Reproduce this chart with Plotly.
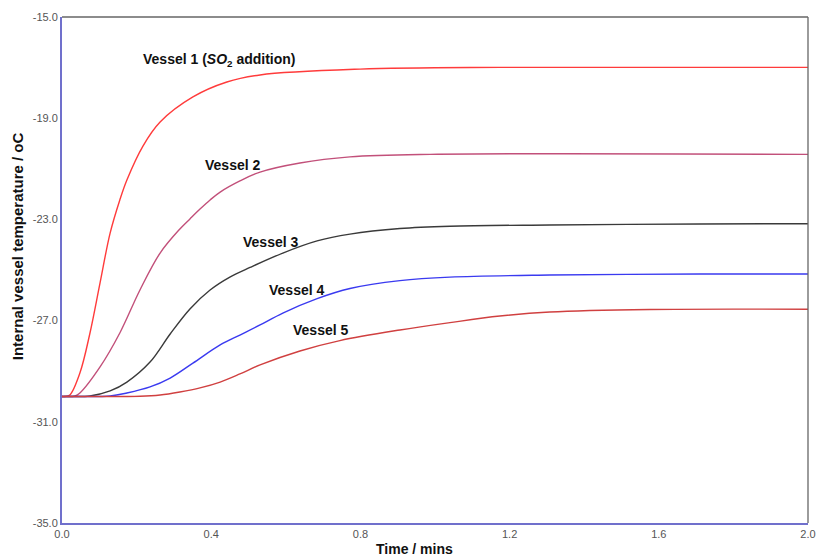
import plotly.graph_objects as go

# Time (mins) and internal temperature (oC)
t1 = [0.0, 0.008, 0.021, 0.048, 0.075, 0.102, 0.129, 0.155, 0.174, 0.217, 0.263, 0.351, 0.442, 0.531, 0.799, 1.174, 2.0]
v1 = [-30.0, -30.0, -29.94, -29.07, -27.49, -25.51, -23.54, -22.23, -21.44, -20.10, -19.15, -18.16, -17.57, -17.29, -17.06, -16.99, -16.99]

t2 = [0.0, 0.008, 0.035, 0.048, 0.102, 0.155, 0.209, 0.263, 0.316, 0.343, 0.370, 0.397, 0.424, 0.477, 0.531, 0.638, 0.772, 0.987, 2.0]
v2 = [-30.0, -30.0, -29.98, -29.86, -28.83, -27.49, -25.79, -24.33, -23.38, -22.98, -22.59, -22.23, -21.92, -21.48, -21.13, -20.77, -20.53, -20.43, -20.43]

t3 = [0.0, 0.021, 0.075, 0.129, 0.174, 0.236, 0.290, 0.343, 0.397, 0.450, 0.504, 0.592, 0.684, 0.772, 0.906, 1.040, 1.308, 1.710, 2.0]
v3 = [-30.0, -30.0, -29.98, -29.78, -29.43, -28.64, -27.53, -26.54, -25.79, -25.28, -24.90, -24.33, -23.85, -23.58, -23.36, -23.27, -23.22, -23.18, -23.17]

t4 = [0.0, 0.035, 0.129, 0.174, 0.236, 0.290, 0.351, 0.424, 0.477, 0.531, 0.592, 0.684, 0.772, 0.906, 1.040, 1.308, 1.710, 2.0]
v4 = [-30.0, -30.0, -29.98, -29.86, -29.62, -29.27, -28.68, -27.96, -27.57, -27.17, -26.70, -26.13, -25.73, -25.42, -25.28, -25.20, -25.16, -25.16]

t5 = [0.0, 0.048, 0.209, 0.263, 0.316, 0.370, 0.424, 0.477, 0.531, 0.638, 0.745, 0.906, 1.040, 1.174, 1.308, 1.576, 2.0]
v5 = [-30.0, -30.0, -29.99, -29.94, -29.82, -29.66, -29.43, -29.11, -28.75, -28.20, -27.79, -27.37, -27.08, -26.82, -26.66, -26.56, -26.55]

series_names = ["Vessel 1 (<i>SO</i><sub>2</sub> addition)", "Vessel 2", "Vessel 3", "Vessel 4", "Vessel 5"]
series_colors = ["#ff3b3b", "#c2507a", "#3a3a3a", "#3a3af0", "#d04040"]
label_x = [0.421, 0.458, 0.558, 0.630, 0.694]
label_y = [-16.70, -20.85, -23.89, -25.79, -27.37]

x_ticks = [0.0, 0.4, 0.8, 1.2, 1.6, 2.0]
y_ticks = [-35.0, -31.0, -27.0, -23.0, -19.0, -15.0]

FONT = "Liberation Sans, Arial, sans-serif"

fig = go.Figure()
for t, v, c, n in zip([t1, t2, t3, t4, t5], [v1, v2, v3, v4, v5], series_colors, series_names):
    fig.add_trace(go.Scatter(x=t, y=v, mode="lines", name=n,
                             line=dict(color=c, width=1.4, shape="spline", smoothing=1.0)))

for n, x, y in zip(series_names, label_x, label_y):
    fig.add_annotation(x=x, y=y, text="<b>" + n + "</b>", showarrow=False, xanchor="center", yanchor="middle",
                       font=dict(family=FONT, size=14, color="#111111"))

fig.add_annotation(x=-0.0603, y=0.547, xref="paper", yref="paper", text="<b>Internal vessel temperature / oC</b>",
                   textangle=-90, showarrow=False, xanchor="center", yanchor="middle",
                   font=dict(family=FONT, size=15, color="#111111"))
fig.add_annotation(x=0.472, y=-0.052, xref="paper", yref="paper", text="<b>Time / mins</b>",
                   showarrow=False, xanchor="center", yanchor="middle",
                   font=dict(family=FONT, size=14, color="#111111"))

# top and right frame in grey
fig.add_shape(type="line", xref="paper", yref="paper", x0=0, x1=1, y0=1, y1=1, line=dict(color="#666666", width=1.3))
fig.add_shape(type="line", xref="paper", yref="paper", x0=1, x1=1, y0=0, y1=1, line=dict(color="#666666", width=1.3))

fig.update_layout(
    width=816, height=558,
    margin=dict(l=62, r=8, t=17, b=35),
    paper_bgcolor="white", plot_bgcolor="white",
    showlegend=False,
    font=dict(family=FONT, size=11, color="#555555"),
    xaxis=dict(range=[0, 2.0], tickvals=x_ticks, ticktext=[f"{v:.1f}" for v in x_ticks],
               showgrid=False, zeroline=False, showline=True, linecolor="#7070cc", linewidth=2,
               ticks="", ticklen=0, automargin=False),
    yaxis=dict(range=[-35, -15], tickvals=y_ticks, ticktext=[f"{v:.1f}" for v in y_ticks],
               showgrid=False, zeroline=False, showline=True, linecolor="#7070cc", linewidth=2,
               ticks="", ticklen=0, automargin=False),
)

fig.write_html("out.html", config={"displayModeBar": False},
               post_script="document.body.style.margin='0';document.body.style.overflow='hidden';")
